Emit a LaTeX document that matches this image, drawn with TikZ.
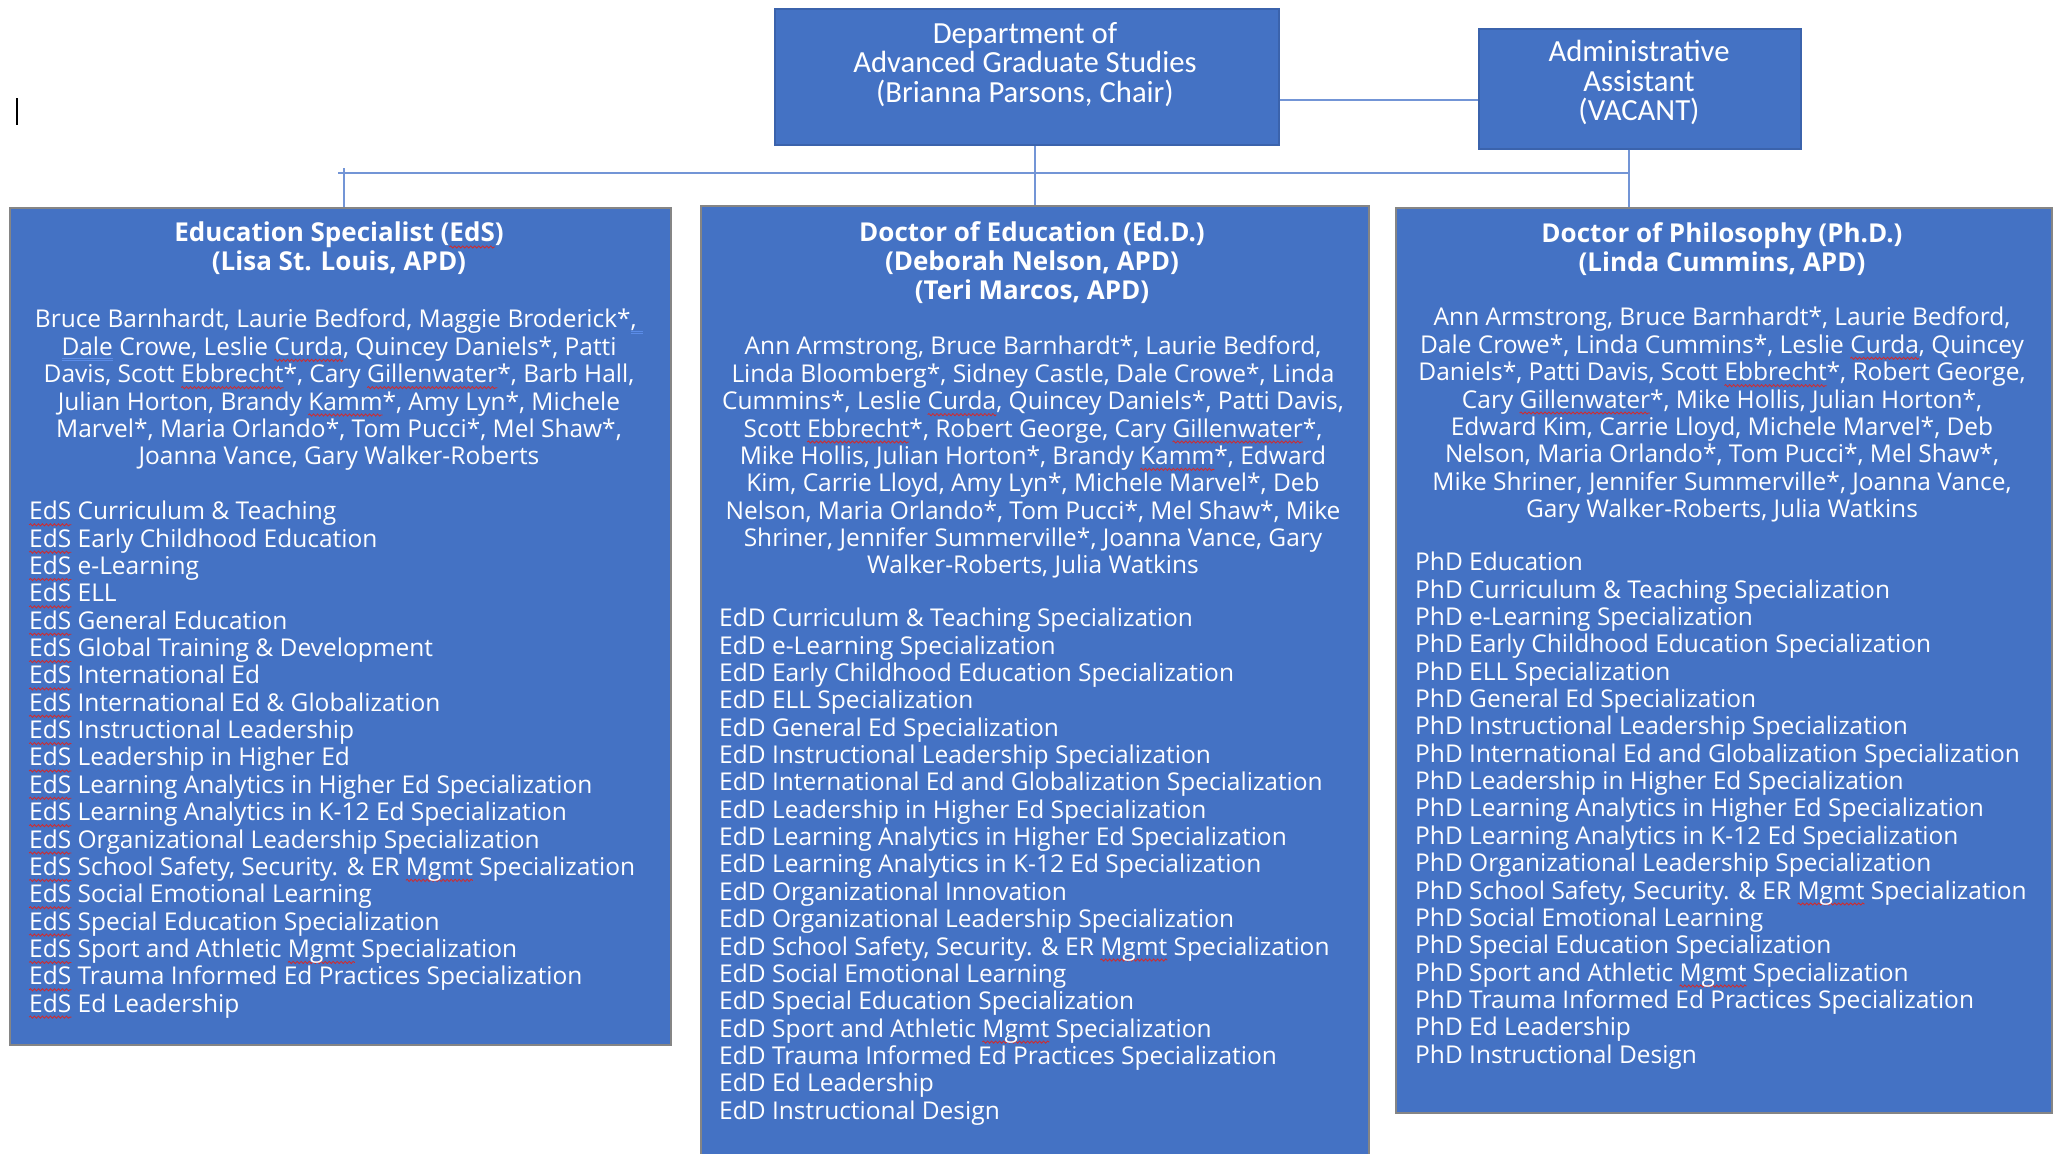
\documentclass[tikz,border=0pt]{standalone}
\usepackage{fontspec}
\usetikzlibrary{decorations.pathmorphing}
\setmainfont{Open Sans}
\newfontfamily\calib{Carlito}
\definecolor{boxblue}{HTML}{4472C4}
\definecolor{boxedge}{HTML}{3B63AC}
\definecolor{greyedge}{HTML}{858585}
\definecolor{connblue}{HTML}{7395D6}
\definecolor{squigred}{HTML}{D42A2A}
\definecolor{gramblue}{HTML}{5B8CE8}
% spelling squiggle and grammar double underline
\newdimen\sqwidth
\newsavebox\sqbox
\newcommand\sq[1]{\sbox\sqbox{#1}\sqwidth=\wd\sqbox\relax\rlap{\tikz[baseline=0pt,x=1pt,y=1pt]{\useasboundingbox (0,0);\draw[squigred, line width=0.8pt, decorate, decoration={snake, amplitude=1.1pt, segment length=4pt}] (0,-5) -- (\sqwidth,-5);}}\usebox\sqbox}
\newcommand\gq[1]{\sbox\sqbox{#1}\rlap{\lower6pt\hbox{\color{gramblue}\vbox{\hrule width\wd\sqbox height0.9pt\kern1.2pt\hrule width\wd\sqbox height0.9pt}}}\usebox\sqbox}
\tikzset{
  bigbox/.style={draw=greyedge, line width=1.6pt, fill=boxblue, inner sep=0pt, anchor=north west},
  topbox/.style={draw=boxedge, line width=1.6pt, fill=boxblue, inner sep=0pt, anchor=north west},
  conn/.style={draw=connblue, line width=1.6pt},
  toptxt/.style={text=white, inner sep=0pt, anchor=north, align=center, font=\calib\fontsize{30.7}{29.5}\selectfont},
  ttltxt/.style={text=white, inner sep=0pt, anchor=north, align=center, font=\bfseries\fontsize{26}{29}\selectfont},
  nametxt/.style={text=white, inner sep=0pt, anchor=north, align=center, font=\fontsize{24.5}{27.35}\selectfont},
  listtxt/.style={text=white, inner sep=0pt, anchor=north west, align=left, font=\fontsize{24.5}{27.35}\selectfont},
}
\begin{document}
\begin{tikzpicture}[x=1pt,y=-1pt]
\useasboundingbox (0,0) rectangle (2054,1154);

% boxes
\node[topbox, minimum width=504pt, minimum height=136pt] (dept) at (774,8) {};
\node[topbox, minimum width=322pt, minimum height=120pt] (admin) at (1478,28) {};
\node[bigbox, minimum width=661pt, minimum height=837pt] (eds) at (9,207) {};
\node[bigbox, minimum width=668pt, minimum height=960pt] (edd) at (700,205) {};
\node[bigbox, minimum width=656pt, minimum height=905pt] (phd) at (1395,207) {};

% connectors
\coordinate (busL) at (338,173);
\coordinate (busR) at (1629,173);
\coordinate (edsJ) at (344,168);
\draw[conn] (dept.east |- 0,100) -- (admin.west |- 0,100);
\draw[conn] (busL) -- (busR);
\draw[conn] (edsJ) -- (edsJ |- eds.north);
\draw[conn] (dept.south -| edd.north) -- (edd.north);
\draw[conn] (admin.south -| busR) -- (phd.north -| busR);

% stray cursor mark
\coordinate (curA) at (17,98);
\coordinate (curB) at (17,125);
\draw[black, line width=1.3pt] (curA) -- (curB);

% top texts
\node[toptxt] (deptt) at (1025,22) {Department of\\Advanced Graduate Studies\\(Brianna Parsons, Chair)};
\node[toptxt] (admint) at (1639,40) {Administrative\\Assistant\\(VACANT)};

% EdS
\node[ttltxt] (edst) at (339,222) {Education Specialist (\sq{EdS})\\(Lisa St. Louis, APD)};
\node[nametxt] (edsn) at (339,309) {Bruce Barnhardt, Laurie Bedford, Maggie Broderick*\gq{,\ }\\
\gq{Dale} Crowe, Leslie \sq{Curda}, Quincey Daniels*, Patti\\
Davis, Scott \sq{Ebbrecht}*, Cary \sq{Gillenwater}*, Barb Hall,\\
Julian Horton, Brandy \sq{Kamm}*, Amy Lyn*, Michele\\
Marvel*, Maria Orlando*, Tom Pucci*, Mel Shaw*,\\
Joanna Vance, Gary Walker-Roberts};
\node[listtxt] (edsl) at (29,501) {\sq{EdS} Curriculum \& Teaching\\
\sq{EdS} Early Childhood Education\\
\sq{EdS} e-Learning\\
\sq{EdS} ELL\\
\sq{EdS} General Education\\
\sq{EdS} Global Training \& Development\\
\sq{EdS} International Ed\\
\sq{EdS} International Ed \& Globalization\\
\sq{EdS} Instructional Leadership\\
\sq{EdS} Leadership in Higher Ed\\
\sq{EdS} Learning Analytics in Higher Ed Specialization\\
\sq{EdS} Learning Analytics in K-12 Ed Specialization\\
\sq{EdS} Organizational Leadership Specialization\\
\sq{EdS} School Safety, Security. \& ER \sq{Mgmt} Specialization\\
\sq{EdS} Social Emotional Learning\\
\sq{EdS} Special Education Specialization\\
\sq{EdS} Sport and Athletic \sq{Mgmt} Specialization\\
\sq{EdS} Trauma Informed Ed Practices Specialization\\
\sq{EdS} Ed Leadership};

% EdD
\node[ttltxt] (eddt) at (1032,221) {Doctor of Education (Ed.D.)\\(Deborah Nelson, APD)\\(Teri Marcos, APD)};
\node[nametxt] (eddn) at (1033,336) {Ann Armstrong, Bruce Barnhardt*, Laurie Bedford,\\
Linda Bloomberg*, Sidney Castle, Dale Crowe*, Linda\\
Cummins*, Leslie \sq{Curda}, Quincey Daniels*, Patti Davis,\\
Scott \sq{Ebbrecht}*, Robert George, Cary \sq{Gillenwater}*,\\
Mike Hollis, Julian Horton*, Brandy \sq{Kamm}*, Edward\\
Kim, Carrie Lloyd, Amy Lyn*, Michele Marvel*, Deb\\
Nelson, Maria Orlando*, Tom Pucci*, Mel Shaw*, Mike\\
Shriner, Jennifer Summerville*, Joanna Vance, Gary\\
Walker-Roberts, Julia Watkins};
\node[listtxt] (eddl) at (719,608) {EdD Curriculum \& Teaching Specialization\\
EdD e-Learning Specialization\\
EdD Early Childhood Education Specialization\\
EdD ELL Specialization\\
EdD General Ed Specialization\\
EdD Instructional Leadership Specialization\\
EdD International Ed and Globalization Specialization\\
EdD Leadership in Higher Ed Specialization\\
EdD Learning Analytics in Higher Ed Specialization\\
EdD Learning Analytics in K-12 Ed Specialization\\
EdD Organizational Innovation\\
EdD Organizational Leadership Specialization\\
EdD School Safety, Security. \& ER \sq{Mgmt} Specialization\\
EdD Social Emotional Learning\\
EdD Special Education Specialization\\
EdD Sport and Athletic \sq{Mgmt} Specialization\\
EdD Trauma Informed Ed Practices Specialization\\
EdD Ed Leadership\\
EdD Instructional Design};

% PhD
\node[ttltxt] (phdt) at (1722,222) {Doctor of Philosophy (Ph.D.)\\(Linda Cummins, APD)};
\node[nametxt] (phdn) at (1722,307) {Ann Armstrong, Bruce Barnhardt*, Laurie Bedford,\\
Dale Crowe*, Linda Cummins*, Leslie \sq{Curda}, Quincey\\
Daniels*, Patti Davis, Scott \sq{Ebbrecht}*, Robert George,\\
Cary \sq{Gillenwater}*, Mike Hollis, Julian Horton*,\\
Edward Kim, Carrie Lloyd, Michele Marvel*, Deb\\
Nelson, Maria Orlando*, Tom Pucci*, Mel Shaw*,\\
Mike Shriner, Jennifer Summerville*, Joanna Vance,\\
Gary Walker-Roberts, Julia Watkins};
\node[listtxt] (phdl) at (1415,552) {PhD Education\\
PhD Curriculum \& Teaching Specialization\\
PhD e-Learning Specialization\\
PhD Early Childhood Education Specialization\\
PhD ELL Specialization\\
PhD General Ed Specialization\\
PhD Instructional Leadership Specialization\\
PhD International Ed and Globalization Specialization\\
PhD Leadership in Higher Ed Specialization\\
PhD Learning Analytics in Higher Ed Specialization\\
PhD Learning Analytics in K-12 Ed Specialization\\
PhD Organizational Leadership Specialization\\
PhD School Safety, Security. \& ER \sq{Mgmt} Specialization\\
PhD Social Emotional Learning\\
PhD Special Education Specialization\\
PhD Sport and Athletic \sq{Mgmt} Specialization\\
PhD Trauma Informed Ed Practices Specialization\\
PhD Ed Leadership\\
PhD Instructional Design};
\end{tikzpicture}
\end{document}
